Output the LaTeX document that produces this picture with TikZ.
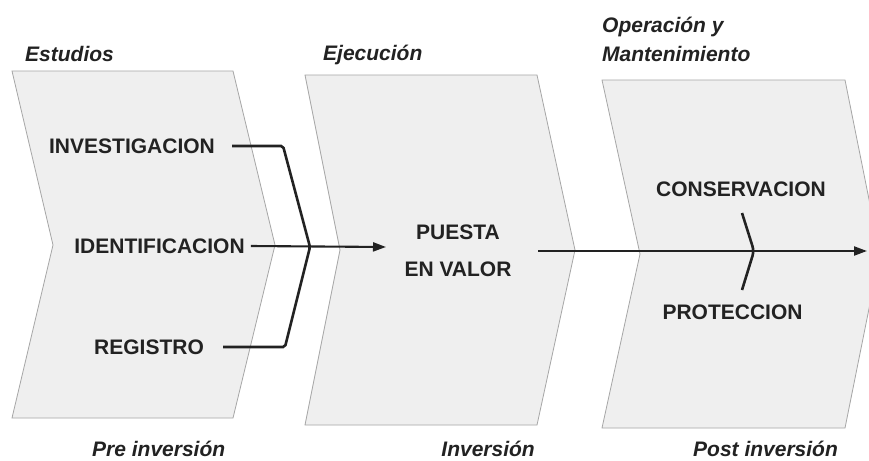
\documentclass[tikz,border=0pt]{standalone}
\usepackage{fontspec}
\setmainfont{Liberation Sans}
\usetikzlibrary{arrows.meta}
\definecolor{chfill}{HTML}{EFEFEF}
\definecolor{chline}{HTML}{A6A6A6}
\definecolor{ink}{HTML}{222222}
\tikzset{
  chev/.style={fill=chfill, draw=chline, line width=0.8pt},
  lbl/.style={inner sep=0pt, text=ink, font=\fontsize{21}{37}\selectfont\bfseries},
  ttl/.style={inner sep=0pt, text=ink, font=\fontsize{21}{30}\selectfont\bfseries\itshape},
  bone/.style={draw=ink, line width=2.6pt, rounded corners=2pt},
  spine/.style={draw=ink, line width=2.1pt, -{Triangle[length=13pt,width=9pt]}},
}
\begin{document}
\begin{tikzpicture}[x=1pt,y=-1pt]
\useasboundingbox (0,0) rectangle (869,460);
\fill[white] (0,0) rectangle (869,460);
\begin{scope}
\clip (0,0) rectangle (869,460);
% chevrons
\draw[chev] (12,71) -- (233,71) -- (275,245) -- (233,418) -- (12,418) -- (53,245) -- cycle;
\draw[chev] (305,75) -- (537,75) -- (575,250) -- (537,425) -- (305,425) -- (340,250) -- cycle;
\draw[chev] (602,80) -- (845,80) -- (880,254) -- (845,428) -- (602,428) -- (640,254) -- cycle;
\end{scope}

% titles
\node[ttl, anchor=base west] (est) at (25,61) {Estudios};
\node[ttl, anchor=base west] (eje) at (323,60) {Ejecución};
\node[ttl, anchor=base west] (ope) at (602,33) {Operación y};
\node[ttl, anchor=base west] (man) at (602,62) {Mantenimiento};
\node[ttl, anchor=base west] (pre) at (92,456) {Pre inversión};
\node[ttl, anchor=base east] (inv2) at (535,456) {Inversión};
\node[ttl, anchor=base west] (post) at (693,456) {Post inversión};

% labels
\node[lbl] (inv) at (132,146) {INVESTIGACION};
\node[lbl] (ide) at (159.5,246) {IDENTIFICACION};
\node[lbl] (reg) at (149,347) {REGISTRO};
\node[lbl, align=center] (pv) at (458,251) {PUESTA\\EN VALOR};
\node[lbl] (con) at (741,189) {CONSERVACION};
\node[lbl] (pro) at (732.5,312) {PROTECCION};

% connectors
\coordinate (j) at (310,247);
\coordinate (t1) at (386,247);
\coordinate (s2) at (538,251);
\coordinate (t2) at (867,251);
\coordinate (ca) at (742,213);
\coordinate (cv) at (754,251);
\coordinate (cb) at (742,290);

\draw[bone] ([xshift=17pt]inv.east) -- ++(51,0) -- (j) -- (285,347) -- ([xshift=19pt]reg.east);
\draw[spine] ([xshift=6pt]ide.east) -- (t1);
\draw[spine] (s2) -- (t2);
\draw[bone, rounded corners=5pt] (ca) -- (cv) -- (cb);
\end{tikzpicture}
\end{document}
